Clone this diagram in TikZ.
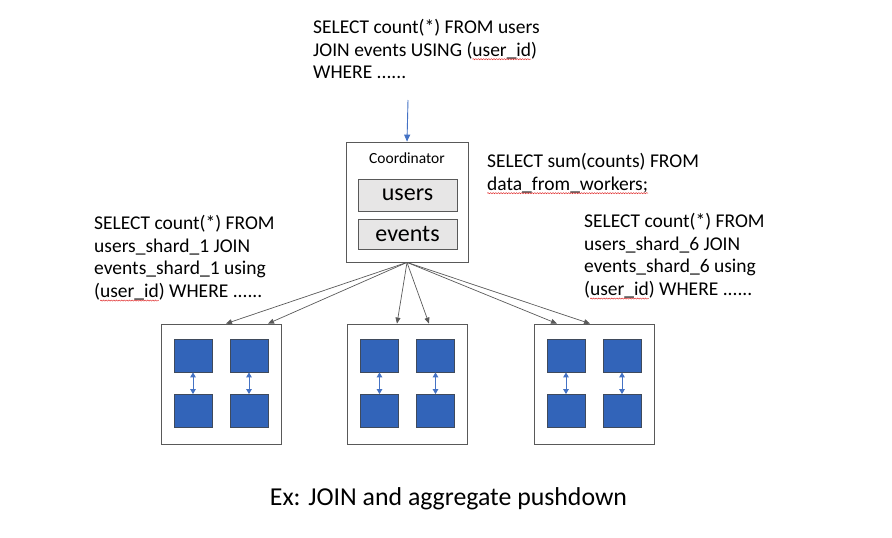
\documentclass[tikz,border=0pt]{standalone}
\usepackage{fontspec}
\setmainfont{Carlito}
\usetikzlibrary{arrows.meta,positioning,decorations.pathmorphing}
\definecolor{boxgray}{HTML}{595959}
\definecolor{tablefill}{HTML}{E7E6E6}
\definecolor{shardblue}{HTML}{3264B9}
\definecolor{shardedge}{HTML}{3F4A5C}
\definecolor{linkblue}{HTML}{4472C4}
\definecolor{squigred}{HTML}{E03030}
% red spell-check wave under a word
\newcommand{\squig}[1]{\tikz[baseline=(sq.base)]{\node[inner sep=0pt,outer sep=0pt] (sq) {#1};
  \draw[overlay, squigred, line width=0.5pt, decorate, decoration={snake,amplitude=0.55pt,segment length=2.6pt}]
    ([yshift=-3pt]sq.base west) -- ([yshift=-3pt]sq.base east);}}

\begin{document}
\begin{tikzpicture}[x=1pt, y=-1pt,
  sqltext/.style={anchor=north west, inner sep=0pt, align=left, font=\fontsize{19.5}{22.7}\selectfont},
  coordbox/.style={rectangle, draw=boxgray, line width=0.8pt, fill=white, minimum width=122pt, minimum height=120pt},
  tablebox/.style={rectangle, draw=boxgray, line width=0.8pt, fill=tablefill, minimum width=99pt, font=\fontsize{24}{28}\selectfont},
  workerbox/.style={rectangle, draw=boxgray, line width=0.8pt, fill=white, minimum width=120pt, minimum height=120pt},
  shard/.style={rectangle, draw=shardedge, line width=0.8pt, fill=shardblue, minimum width=38pt, minimum height=33pt},
  fanout/.style={-{Triangle[length=6pt,width=5pt]}, draw=boxgray, line width=0.7pt},
  querylink/.style={-{Triangle[length=7pt,width=6pt]}, draw=linkblue, line width=0.9pt},
  replica/.style={{Triangle[length=5pt,width=5.5pt]}-{Triangle[length=5pt,width=5.5pt]}, draw=linkblue, line width=1pt}
]
\useasboundingbox (0,0) rectangle (892,538);

% query texts
\node[sqltext] (q) at (313,19) {SELECT count(*) FROM users\\JOIN events USING (\squig{user\_id})\\WHERE ......};
\node[sqltext] (qsum) at (487,153) {SELECT sum(counts) FROM\\\squig{data\_from\_workers;}};
\node[sqltext] (q1) at (94,215) {SELECT count(*) FROM\\users\_shard\_1 JOIN\\events\_shard\_1 using\\(\squig{user\_id}) WHERE ......};
\node[sqltext] (q6) at (584,213) {SELECT count(*) FROM\\users\_shard\_6 JOIN\\events\_shard\_6 using\\(\squig{user\_id}) WHERE ......};

% coordinator
\node[coordbox] (coord) at (407,202) {};
\node[font=\fontsize{15.5}{18}\selectfont, below=8pt of coord.north] (ctitle) {Coordinator};
\node[tablebox, minimum height=32pt] (users) at (407.5,195) {users};
\node[tablebox, minimum height=30pt] (events) at (407.5,234) {events};
\coordinate (qin) at (408,100);
\draw[querylink] (qin) -- (coord.north);

% workers
\foreach \w/\cx in {w1/221, w2/407.5, w3/594} {
  \node[workerbox] (\w) at (\cx,384) {};
  \node[shard] (\w-a) at ([xshift=-28pt, yshift=28.5pt]\w.center) {};
  \node[shard] (\w-b) at ([xshift=28pt, yshift=28.5pt]\w.center) {};
  \node[shard] (\w-c) at ([xshift=-28pt, yshift=-27pt]\w.center) {};
  \node[shard] (\w-d) at ([xshift=28pt, yshift=-27pt]\w.center) {};
  \draw[replica] (\w-a.south) -- (\w-c.north);
  \draw[replica] (\w-b.south) -- (\w-d.north);
}

% fan-out to the shards
\draw[fanout] (coord.south) -- ([xshift=5pt]w1.north);
\draw[fanout] (coord.south) -- ([xshift=47pt]w1.north);
\draw[fanout] (coord.south) -- ([xshift=-10.5pt]w2.north);
\draw[fanout] (coord.south) -- ([xshift=21.5pt]w2.north);
\draw[fanout] (coord.south) -- ([xshift=-37pt]w3.north);
\draw[fanout] (coord.south) -- ([xshift=-4pt]w3.north);

\node[font=\fontsize{25.8}{30}\selectfont, anchor=base] (caption) at (448.5,505) {Ex: JOIN and aggregate pushdown};
\end{tikzpicture}
\end{document}
